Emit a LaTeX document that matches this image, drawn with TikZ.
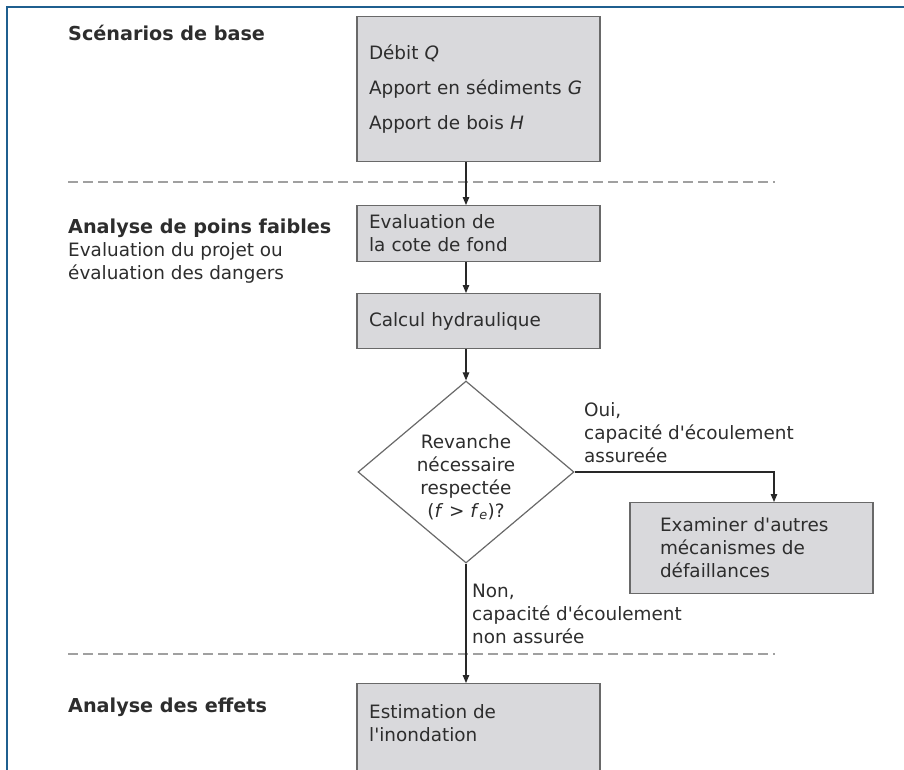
\documentclass[tikz,border=0pt]{standalone}
\usepackage{fontspec}
\setmainfont{DejaVu Sans}
\usetikzlibrary{shapes.geometric,arrows.meta}
\definecolor{frameblue}{RGB}{31,95,143}
\definecolor{boxfill}{RGB}{217,217,220}
\definecolor{boxline}{RGB}{105,105,105}
\definecolor{txt}{RGB}{45,45,45}
\definecolor{dashgray}{RGB}{160,160,160}
\definecolor{arrowc}{RGB}{40,40,40}
\newcommand{\apos}{\textquotesingle}
\begin{document}
\begin{tikzpicture}[x=1pt,y=-1pt,
  every node/.style={font=\fontsize{18.4pt}{23pt}\selectfont, text=txt},
  box/.style={draw=boxline, fill=boxfill, line width=1.2pt, rectangle,
    minimum width=243pt, inner xsep=12pt, inner ysep=0pt, text width=219pt,
    align=left, anchor=north},
  lbl/.style={align=left, anchor=west, inner sep=0pt},
  head/.style={font=\fontsize{19.2pt}{23pt}\selectfont\bfseries},
  arr/.style={draw=arrowc, line width=1.1pt, -{Triangle[length=8pt,width=6.5pt]}},
  sep/.style={draw=dashgray, line width=2.2pt, dash pattern=on 10pt off 5pt},
  frame/.style={draw=frameblue, line width=2pt}
]
\useasboundingbox (0,0) rectangle (904,770);
% frame
\draw[frame] (7,770) -- (7,7) -- (904,7);

% dashed separators
\coordinate (d1a) at (68,182);
\coordinate (d1b) at (775,182);
\coordinate (d2a) at (68,654);
\coordinate (d2b) at (775,654);
\draw[sep] (d1a) -- (d1b);
\draw[sep] (d2a) -- (d2b);

% left headings
\node[lbl, head] (h1) at (68,33) {Scénarios de base};
\node[lbl] (h2) at (68,251) {{\fontsize{19.2pt}{23pt}\selectfont\bfseries Analyse de poins faibles}\\Evaluation du projet ou\\évaluation des dangers};
\node[lbl, head] (h3) at (68,707) {Analyse des effets};

% boxes
\node[box, minimum height=145pt, font=\fontsize{18.4pt}{35pt}\selectfont] (box1) at (478.5,16)
  {Débit \textit{Q}\\Apport en sédiments \textit{G}\\Apport de bois \textit{H}};
\node[box, minimum height=56pt] (box2) at (478.5,205) {Evaluation de\\la cote de fond};
\node[box, minimum height=55pt] (box3) at (478.5,293) {Calcul hydraulique};
\node[box, minimum height=91pt, inner xsep=30pt, text width=183pt] (box4) at (751.5,502)
  {Examiner d\apos autres\\mécanismes de\\défaillances};
\node[box, minimum height=140pt] (box5) at (478.5,683) {};
\node[lbl] (box5text) at (369,723) {Estimation de\\l\apos inondation};

% decision
\node[diamond, draw=boxline, line width=1.2pt, fill=white, minimum width=216pt,
  minimum height=182pt, inner sep=0pt] (dia) at (466,472) {};
\node[align=center, inner sep=0pt] (diatext) at (466,477)
  {Revanche\\nécessaire\\respectée\\(\textit{f} > \textit{f}\textsubscript{\textit{e}})?};

% connectors
\draw[arr] (box1.south -| dia.north) -- (box2.north -| dia.north);
\draw[arr] (box2.south -| dia.north) -- (box3.north -| dia.north);
\draw[arr] (box3.south -| dia.north) -- (dia.north);
\coordinate (bend) at (774,472);
\draw[arr] (dia.east) -- (bend) -- (bend |- box4.north);
\draw[arr] (dia.south) -- (dia.south |- box5.north);

% branch labels
\node[lbl] (oui) at (584,433) {Oui,\\capacité d\apos écoulement\\assureée};
\node[lbl] (non) at (472,614) {Non,\\capacité d\apos écoulement\\non assurée};
\end{tikzpicture}
\end{document}
